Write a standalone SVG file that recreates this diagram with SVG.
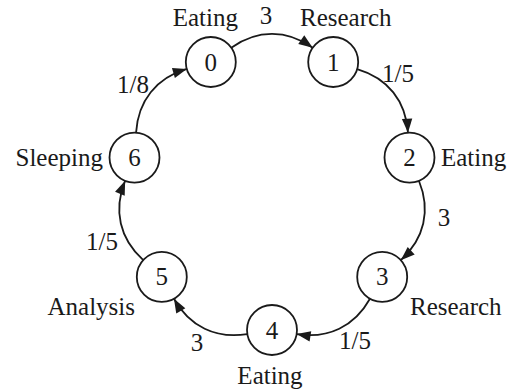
<svg xmlns="http://www.w3.org/2000/svg" width="507" height="392" viewBox="0 0 507 392">
<style>
.node circle{fill:#fff;stroke:#1a1a1a;stroke-width:1.8}
text{font-family:"Liberation Serif","Times New Roman",serif;font-size:25px;fill:#1a1a1a}
.num{text-anchor:middle}
.end{text-anchor:end}
.edge{fill:none;stroke:#1a1a1a;stroke-width:1.8}
</style>
<defs>
<marker id="ah" markerUnits="userSpaceOnUse" markerWidth="16" markerHeight="12" viewBox="-15 -6 16 12" refX="0" refY="0" orient="auto">
<path d="M0,0 L-14,-5.2 L-14,5.2 Z" fill="#1a1a1a"/>
</marker>
<path id="e" d="M20.48,-14.34 C46.6,-32.63 75.8,-32.63 101.92,-14.34"/>
</defs>
<g id="connectors">
<use href="#e" class="edge" marker-end="url(#ah)" transform="translate(210.8,62) rotate(0)"/>
<use href="#e" class="edge" marker-end="url(#ah)" transform="translate(333.2,62) rotate(51.4286)"/>
<use href="#e" class="edge" marker-end="url(#ah)" transform="translate(409.5,157.6) rotate(102.857)"/>
<use href="#e" class="edge" marker-end="url(#ah)" transform="translate(382.2,276.9) rotate(154.286)"/>
<use href="#e" class="edge" marker-end="url(#ah)" transform="translate(272,330) rotate(205.714)"/>
<use href="#e" class="edge" marker-end="url(#ah)" transform="translate(161.8,276.9) rotate(257.143)"/>
<use href="#e" class="edge" marker-end="url(#ah)" transform="translate(134.5,157.6) rotate(308.571)"/>
</g>
<g id="edge-labels">
<text x="266" y="24" class="num">3</text>
<text x="398" y="82" class="num">1/5</text>
<text x="444" y="226" class="num">3</text>
<text x="355" y="349" class="num">1/5</text>
<text x="197" y="351" class="num">3</text>
<text x="102" y="250" class="num">1/5</text>
<text x="133" y="93" class="num">1/8</text>
</g>
<g id="n0" class="node"><circle cx="210.8" cy="62" r="25"/><text x="210.8" y="70.5" class="num">0</text><text x="238" y="26" class="end">Eating</text></g>
<g id="n1" class="node"><circle cx="333.2" cy="62" r="25"/><text x="333.2" y="70.5" class="num">1</text><text x="300" y="26">Research</text></g>
<g id="n2" class="node"><circle cx="409.5" cy="157.6" r="25"/><text x="409.5" y="166" class="num">2</text><text x="441" y="166">Eating</text></g>
<g id="n3" class="node"><circle cx="382.2" cy="276.9" r="25"/><text x="382.2" y="285.4" class="num">3</text><text x="410" y="315">Research</text></g>
<g id="n4" class="node"><circle cx="272" cy="330" r="25"/><text x="272" y="338.5" class="num">4</text><text x="270" y="384" class="num">Eating</text></g>
<g id="n5" class="node"><circle cx="161.8" cy="276.9" r="25"/><text x="161.8" y="285.4" class="num">5</text><text x="135" y="315" class="end">Analysis</text></g>
<g id="n6" class="node"><circle cx="134.5" cy="157.6" r="25"/><text x="134.5" y="166" class="num">6</text><text x="103" y="166" class="end">Sleeping</text></g>
</svg>
